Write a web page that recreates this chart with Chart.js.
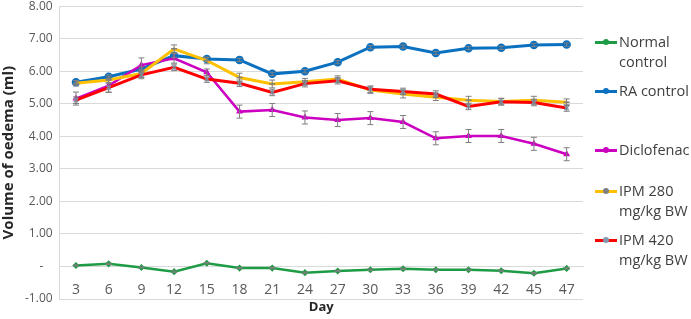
<!DOCTYPE html>
<html>
<head>
<meta charset="utf-8">
<script src="https://cdn.jsdelivr.net/npm/chart.js@4/dist/chart.umd.min.js"></script>
<style>
  html, body { margin: 0; padding: 0; background: #fff; }
  #wrap { position: relative; width: 691px; height: 319px; overflow: hidden; }
  #chart { position: absolute; left: 0; top: -8px; }
  #legend { position: absolute; left: 595px; top: 0; font-family: "Open Sans", sans-serif; font-size: 14.5px; color: #404040; }
  .item { position: absolute; left: 0; width: 100px; line-height: 20px; }
  .key { position: absolute; left: 0; top: 9px; width: 22px; height: 3px; }
  .key i { position: absolute; left: 8px; top: -2px; width: 6px; height: 6px; border-radius: 50%; }
  .txt { position: absolute; left: 24px; top: 0; white-space: nowrap; }
</style>
</head>
<body>
<div id="wrap">
  <canvas id="chart" width="691" height="324"></canvas>
  <div id="legend"></div>
</div>
<script>
const days = ['3', '6', '9', '12', '15', '18', '21', '24', '27', '30', '33', '36', '39', '42', '45', '47'];

const normalControl = [0.03, 0.08, -0.03, -0.16, 0.10, -0.05, -0.05, -0.19, -0.14, -0.10, -0.07, -0.10, -0.10, -0.13, -0.21, -0.06];
const raControl     = [5.66, 5.83, 6.07, 6.48, 6.38, 6.35, 5.92, 6.00, 6.28, 6.74, 6.76, 6.56, 6.71, 6.72, 6.81, 6.82];
const diclofenac    = [5.16, 5.56, 6.19, 6.40, 5.97, 4.76, 4.81, 4.58, 4.50, 4.56, 4.44, 3.94, 4.01, 4.01, 3.77, 3.45];
const ipm280        = [5.63, 5.73, 5.93, 6.69, 6.33, 5.81, 5.61, 5.68, 5.76, 5.42, 5.30, 5.20, 5.11, 5.07, 5.11, 5.05];
const ipm420        = [5.11, 5.50, 5.89, 6.12, 5.76, 5.63, 5.35, 5.62, 5.71, 5.45, 5.38, 5.30, 4.92, 5.06, 5.04, 4.87];

const errNormal     = [0.02, 0.02, 0.02, 0.02, 0.02, 0.02, 0.02, 0.02, 0.02, 0.02, 0.02, 0.02, 0.02, 0.02, 0.02, 0.02];
const errRA         = [0.06, 0.06, 0.06, 0.06, 0.05, 0.05, 0.05, 0.05, 0.05, 0.05, 0.05, 0.05, 0.05, 0.05, 0.05, 0.05];
const errDiclofenac = [0.20, 0.20, 0.22, 0.15, 0.10, 0.20, 0.20, 0.20, 0.20, 0.20, 0.20, 0.20, 0.20, 0.20, 0.20, 0.20];
const errIpm280     = [0.08, 0.10, 0.12, 0.12, 0.10, 0.13, 0.12, 0.10, 0.10, 0.10, 0.12, 0.10, 0.12, 0.10, 0.12, 0.10];
const errIpm420     = [0.10, 0.15, 0.12, 0.10, 0.10, 0.10, 0.10, 0.10, 0.10, 0.10, 0.10, 0.10, 0.10, 0.10, 0.10, 0.10];

const SERIES = [
  { label: 'Normal control', lines: ['Normal', 'control'], data: normalControl, err: errNormal, color: '#1e9b45', style: 'rectRot', marker: '#1e9b45', radius: 2.5, width: 2.5, order: 5, legendTop: 32 },
  { label: 'RA control', lines: ['RA control'], data: raControl, err: errRA, color: '#0a70c0', style: 'circle', marker: '#0a70c0', radius: 3.5, width: 3, order: 4, legendTop: 81 },
  { label: 'Diclofenac', lines: ['Diclofenac'], data: diclofenac, err: errDiclofenac, color: '#cc00c0', style: 'triangle', marker: '#cc00c0', radius: 2.5, width: 2.5, order: 3, legendTop: 140 },
  { label: 'IPM 280 mg/kg BW', lines: ['IPM 280', 'mg/kg BW'], data: ipm280, err: errIpm280, color: '#ffc000', style: 'line', marker: '#7f7f7f', radius: 3, width: 3, order: 2, legendTop: 181 },
  { label: 'IPM 420 mg/kg BW', lines: ['IPM 420', 'mg/kg BW'], data: ipm420, err: errIpm420, color: '#ff0000', style: 'crossRot', marker: '#8497b0', radius: 3, width: 3, order: 1, legendTop: 230 },
];

// gray error bars with caps
const errorBars = {
  id: 'errorBars',
  afterDatasetsDraw(chart) {
    const { ctx, scales: { y } } = chart;
    ctx.save();
    ctx.strokeStyle = '#7f7f7f';
    ctx.lineWidth = 1;
    chart.data.datasets.forEach((ds, i) => {
      const meta = chart.getDatasetMeta(i);
      meta.data.forEach((pt, j) => {
        const e = ds.err[j];
        if (!e) return;
        const top = y.getPixelForValue(ds.data[j] + e);
        const bot = y.getPixelForValue(ds.data[j] - e);
        ctx.beginPath();
        ctx.moveTo(pt.x, top); ctx.lineTo(pt.x, bot);
        ctx.moveTo(pt.x - 3, top); ctx.lineTo(pt.x + 3, top);
        ctx.moveTo(pt.x - 3, bot); ctx.lineTo(pt.x + 3, bot);
        ctx.stroke();
      });
    });
    ctx.restore();
  }
};

new Chart(document.getElementById('chart').getContext('2d'), {
  type: 'line',
  data: {
    labels: days,
    datasets: SERIES.map(s => ({
      label: s.label,
      data: s.data,
      err: s.err,
      borderColor: s.color,
      backgroundColor: s.marker,
      pointBorderColor: s.marker,
      pointBackgroundColor: s.marker,
      pointStyle: s.style,
      pointRadius: s.radius,
      pointBorderWidth: 1.5,
      borderWidth: s.width,
      order: s.order,
      tension: 0,
    })),
  },
  options: {
    responsive: false,
    animation: false,
    layout: { padding: { left: 0, right: 108, top: -22, bottom: 17 } },
    plugins: { legend: { display: false }, tooltip: { enabled: false } },
    scales: {
      x: {
        position: { y: 0 },
        offset: true,
        grid: { display: false, offset: true },
        border: { color: '#d9d9d9' },
        ticks: { color: '#595959', font: { family: 'Open Sans', size: 14 }, padding: 7 },
        title: { display: true, text: 'Day', color: '#262626', font: { family: 'Open Sans', size: 13, weight: 'bold' }, padding: { top: -6, bottom: 0 } },
      },
      y: {
        min: -1, max: 8,
        grid: { color: '#d9d9d9', drawTicks: false },
        border: { color: '#d9d9d9' },
        ticks: {
          stepSize: 1, padding: 7, color: '#595959',
          font: { family: 'Open Sans', size: 12 },
          callback: v => v === 0 ? '-   ' : v.toFixed(2),
        },
        title: { display: true, text: 'Volume of oedema (ml)', color: '#262626', font: { family: 'Open Sans', size: 15, weight: 'bold' }, padding: 0 },
      },
    },
  },
  plugins: [errorBars],
});

// legend on the right, text wraps like the original
const legend = document.getElementById('legend');
SERIES.forEach(s => {
  const item = document.createElement('div');
  item.className = 'item';
  item.style.top = s.legendTop + 'px';
  item.innerHTML = `<span class="key" style="background:${s.color}"><i style="background:${s.marker}"></i></span><span class="txt">${s.lines.join('<br>')}</span>`;
  legend.appendChild(item);
});
</script>
</body>
</html>
